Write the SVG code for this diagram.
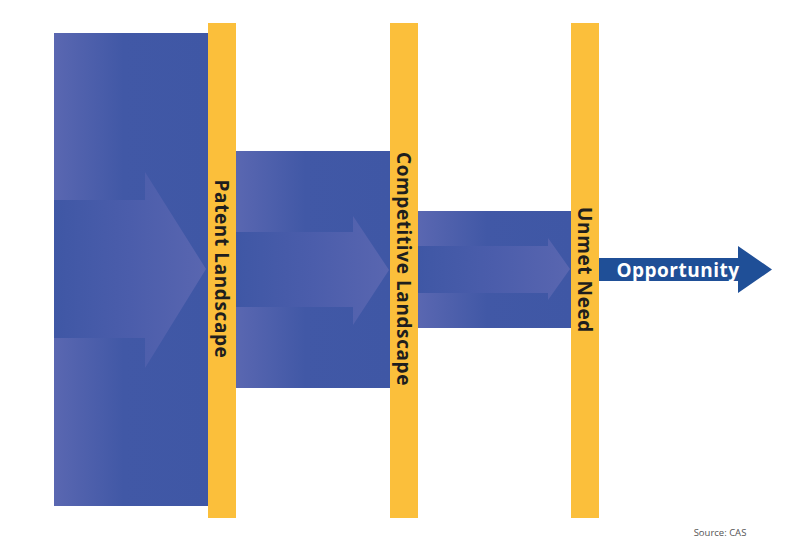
<svg xmlns="http://www.w3.org/2000/svg" width="800" height="545" viewBox="0 0 800 545">
  <defs>
    <linearGradient id="gBox" x1="0" y1="0" x2="1" y2="0">
      <stop offset="0" stop-color="#5a67b1"/>
      <stop offset="0.45" stop-color="#4158a6"/>
      <stop offset="1" stop-color="#3f57a5"/>
    </linearGradient>
    <linearGradient id="gArrow" x1="0" y1="0" x2="1" y2="0">
      <stop offset="0" stop-color="#3f57a5"/>
      <stop offset="0.5" stop-color="#4b5dab"/>
      <stop offset="1" stop-color="#5966b0"/>
    </linearGradient>
    <style>
      .box { fill: url(#gBox); }
      .inner { fill: url(#gArrow); }
      .bar { fill: #fbbf3b; }
      .lbl { font-family: "Open Sans", "Liberation Sans", sans-serif; font-weight: bold; font-size: 19px; letter-spacing: 0.6px; fill: #1e1e1e; text-anchor: middle; dominant-baseline: central; }
      .opp { font-family: "Open Sans", "Liberation Sans", sans-serif; font-weight: bold; font-size: 19px; letter-spacing: 0.5px; fill: #ffffff; text-anchor: middle; }
      .src { font-family: "Open Sans", "Liberation Sans", sans-serif; font-size: 9.5px; fill: #555555; text-anchor: middle; }
    </style>
  </defs>
  <rect width="800" height="545" fill="#ffffff"/>

  <g id="stage1">
    <rect class="box" x="54" y="33" width="154" height="473"/>
    <polygon class="inner" points="54,200 145,200 145,172 206,269 145,368 145,338 54,338"/>
  </g>
  <g id="stage2">
    <rect class="box" x="236" y="151" width="154" height="237"/>
    <polygon class="inner" points="236,232 353,232 353,216 389,270 353,325 353,307 236,307"/>
  </g>
  <g id="stage3">
    <rect class="box" x="418" y="211" width="153" height="117"/>
    <polygon class="inner" points="418,246 548,246 548,238 570,269 548,300 548,293 418,293"/>
  </g>

  <g id="bar-patent">
    <rect class="bar" x="208" y="23" width="28" height="495"/>
    <text class="lbl" transform="translate(222,269) rotate(90)">Patent Landscape</text>
  </g>
  <g id="bar-competitive">
    <rect class="bar" x="390" y="23" width="28" height="495"/>
    <text class="lbl" transform="translate(404,269) rotate(90)">Competitive Landscape</text>
  </g>
  <g id="bar-unmet">
    <rect class="bar" x="571" y="23" width="28" height="495"/>
    <text class="lbl" transform="translate(585,270) rotate(90)">Unmet Need</text>
  </g>

  <g id="connectors">
    <g id="opportunity">
      <polygon points="599,258 738,258 738,246 772,269.5 738,293 738,281 599,281" fill="#1f4f97"/>
      <text class="opp" x="678" y="276.5">Opportunity</text>
    </g>
  </g>

  <text class="src" x="720" y="536">Source: CAS</text>
</svg>
